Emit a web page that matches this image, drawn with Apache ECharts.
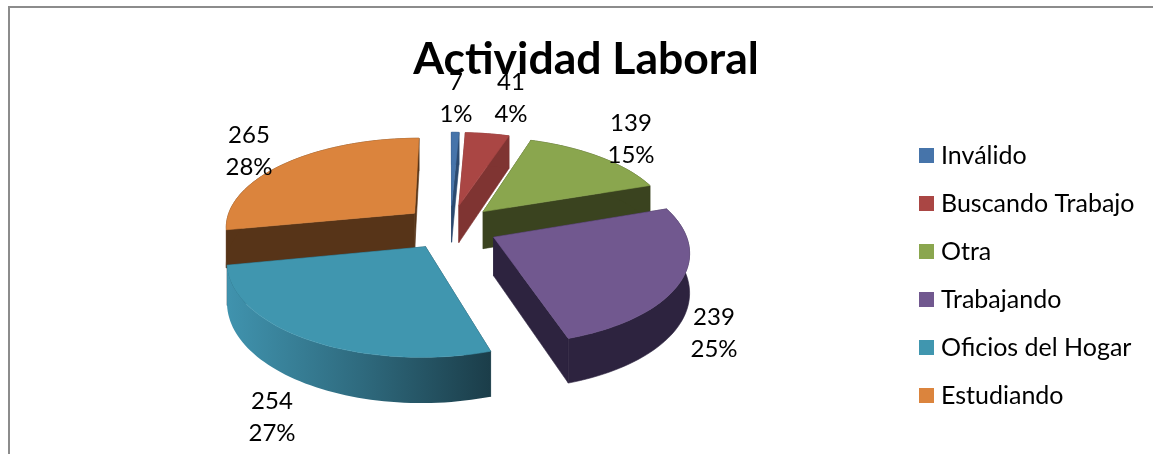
<!DOCTYPE html>
<html>
<head>
<meta charset="utf-8">
<style>html,body{margin:0;padding:0;background:#fff}#c{width:1153px;height:454px}</style>
<script src="https://cdn.jsdelivr.net/npm/echarts@6/dist/echarts.min.js"></script>
</head>
<body>
<div id="c"></div>
<script>
const categories = ['Inválido', 'Buscando Trabajo', 'Otra', 'Trabajando', 'Oficios del Hogar', 'Estudiando'];
const values = [7, 41, 139, 239, 254, 265];
const percents = ['1%', '4%', '15%', '25%', '27%', '28%'];

const topColors = ['#4674aa', '#aa4644', '#8aa64e', '#71588f', '#4096af', '#db843d'];
const wallColors = ['#2b4a70', '#7f3432', '#3a431f', '#2d233f',
  {type:'linear',x:0,y:0,x2:1,y2:0,colorStops:[{offset:0,color:'#4093ae'},{offset:0.5,color:'#2f6b7f'},{offset:1,color:'#1b3d49'}]},
  '#573418'];
const labelAnchors = [[456,98],[511,98],[631,139],[714,333],[272,417],[249,151]];

const FONT = 'Lato';
const G = {cx:450.5, cy:227, rx:190, ry:89, persp:0.14, explode:0.25, depth:38};
const total = values.reduce((a,b)=>a+b,0);
const starts = []; let acc = 0;
values.forEach(v=>{starts.push(acc/total*2*Math.PI); acc+=v;});

function project(u,v,d){
  const s = 1/(1-G.persp*v);
  return [G.cx+G.rx*u*s, G.cy+G.ry*v*s+(d?G.depth*s:0)];
}
function makeRender(i){
  return function(){
    const a0 = starts[i], a1 = a0+values[i]/total*2*Math.PI, mid=(a0+a1)/2;
    const eu = G.explode*Math.sin(mid), ev = -G.explode*Math.cos(mid);
    const n = Math.max(2,Math.ceil((a1-a0)/0.03));
    const rim = [];
    for(let k=0;k<=n;k++){
      const a=a0+(a1-a0)*k/n;
      rim.push([eu+Math.sin(a),ev-Math.cos(a)]);
    }
    const P=(p,d)=>project(p[0],p[1],d);
    const apex=[eu,ev];
    const z=Math.round((ev+1)*100)*10;
    const flat=wallColors[i];
    const mk=(pts,fill,part)=>({type:'polygon',z2:z+part,shape:{points:pts},
      style:{fill:fill,stroke:typeof fill==='string'?fill:null,lineWidth:typeof fill==='string'?0.6:0}});
    const edge=(p)=>[P(apex,false),P(p,false),P(p,true),P(apex,true)];
    const wallFill=typeof flat==='string'?flat:'#1b3d49';
    const wall=rim.map(p=>P(p,false)).concat(rim.slice().reverse().map(p=>P(p,true)));
    const top=[P(apex,false)].concat(rim.map(p=>P(p,false)));
    return {type:'group',children:[
      mk(edge(rim[0]),wallFill,0),
      mk(edge(rim[n]),wallFill,1),
      mk(wall,flat,2),
      mk(top,topColors[i],3),
      {type:'text',z2:9000,style:{x:labelAnchors[i][0],y:labelAnchors[i][1],
        text:values[i]+'\n'+percents[i],fill:'#000',font:'24px '+FONT,
        align:'center',verticalAlign:'middle',lineHeight:32}}
    ]};
  };
}
const series = categories.map((name,i)=>({
  type:'custom',name:name,coordinateSystem:'none',silent:true,animation:false,
  itemStyle:{color:topColors[i]},
  data:[[values[i]]],
  renderItem:makeRender(i)
}));
const chart = echarts.init(document.getElementById('c'),null,{renderer:'canvas'});
chart.setOption({
  backgroundColor:'#fff',
  animation:false,
  title:{text:'Actividad Laboral',left:581,top:32,textAlign:'center',
    textStyle:{fontFamily:FONT,fontSize:44.5,fontWeight:'bold',color:'#000'}},
  legend:{orient:'vertical',left:919,top:141,padding:0,icon:'rect',itemWidth:15,itemHeight:15,itemGap:19,
    selectedMode:false,data:categories,
    textStyle:{fontFamily:FONT,fontSize:25,color:'#000',lineHeight:29,padding:[0,0,0,2]}},
  graphic:[
    {type:'rect',silent:true,shape:{x:8,y:6,width:1145,height:2},style:{fill:'#8c8c8c'}},
    {type:'rect',silent:true,shape:{x:8,y:6,width:2,height:448},style:{fill:'#8c8c8c'}}
  ],
  series:series
});
</script>
</body>
</html>
